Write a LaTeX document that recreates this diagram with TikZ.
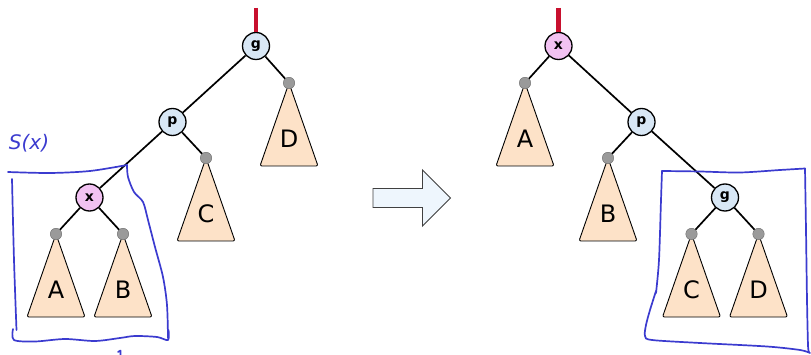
\documentclass[tikz,border=0pt]{standalone}
\usepackage{fontspec}
\setmainfont{DejaVu Sans}
\definecolor{nodeblue}{HTML}{D8E7F5}
\definecolor{nodepink}{HTML}{F2C2F2}
\definecolor{dotgray}{HTML}{9A9A9A}
\definecolor{peach}{HTML}{FDE2C8}
\definecolor{penblue}{HTML}{3B3BCF}
\definecolor{rootred}{HTML}{C8102E}
\definecolor{arrowfill}{HTML}{EEF6FD}
% a subtree triangle hanging below its gray attachment dot
\newcommand\sbtree[4]{%
  \draw[subtree] (#2,#3) -- (#2-29,#3+83) -- (#2+29,#3+83) -- cycle;
  \node[lbl] (#1) at (#2,#3+56) {#4};}
\begin{document}
\begin{tikzpicture}[x=1pt,y=-1pt,
  inner/.style={circle,draw=black,line width=1.3pt,minimum size=27pt,inner sep=0pt,
    font=\fontsize{14}{14}\selectfont\bfseries},
  blu/.style={inner,fill=nodeblue},
  pnk/.style={inner,fill=nodepink},
  leaf/.style={circle,fill=dotgray,draw=dotgray!70!black,line width=0.4pt,
    minimum size=11.5pt,inner sep=0pt},
  edge/.style={line width=1.7pt},
  subtree/.style={draw=black,fill=peach,line width=0.9pt,rounded corners=2pt},
  lbl/.style={font=\fontsize{24}{24}\selectfont},
  pen/.style={draw=penblue,line width=1.7pt,line cap=round,line join=round},
  rootline/.style={draw=rootred,line width=4.5pt},
  bigarrow/.style={draw=black!75,fill=arrowfill,line width=0.9pt}
]
\useasboundingbox (0,0) rectangle (811,355);

% ---------- before the rotation ----------
\sbtree{lD}{289}{83}{D}
\sbtree{lC}{206}{158}{C}
\sbtree{lA}{56}{234}{A}
\sbtree{lB}{123}{234}{B}

\node[blu] (g1) at (256,46) {g};
\node[blu] (p1) at (172.5,122) {p};
\node[pnk] (x1) at (89.5,197.5) {x};
\node[leaf] (dD1) at (289,83) {};
\node[leaf] (dC1) at (206,158) {};
\node[leaf] (dA1) at (56,234) {};
\node[leaf] (dB1) at (123,234) {};
\coordinate (top1) at (256,8);

\draw[rootline] (top1) -- (g1.north);
\draw[edge] (g1) -- (p1);
\draw[edge] (g1) -- (dD1);
\draw[edge] (p1) -- (x1);
\draw[edge] (p1) -- (dC1);
\draw[edge] (x1) -- (dA1);
\draw[edge] (x1) -- (dB1);

% ---------- transition arrow ----------
\draw[bigarrow] (373,188.5) -- (422.5,188.5) -- (422.5,170) -- (450.5,198)
  -- (422.5,226) -- (422.5,207.5) -- (373,207.5) -- cycle;

% ---------- after the rotation ----------
\sbtree{rA}{525}{83}{A}
\sbtree{rB}{608}{158}{B}
\sbtree{rC}{691.5}{234}{C}
\sbtree{rD}{758.5}{234}{D}

\node[pnk] (x2) at (558.5,46) {x};
\node[blu] (p2) at (641.5,122) {p};
\node[blu] (g2) at (725,197.5) {g};
\node[leaf] (dA2) at (525,83) {};
\node[leaf] (dB2) at (608,158) {};
\node[leaf] (dC2) at (691.5,234) {};
\node[leaf] (dD2) at (758.5,234) {};
\coordinate (top2) at (558.5,8);

\draw[rootline] (top2) -- (x2.north);
\draw[edge] (x2) -- (dA2);
\draw[edge] (x2) -- (p2);
\draw[edge] (p2) -- (dB2);
\draw[edge] (p2) -- (g2);
\draw[edge] (g2) -- (dC2);
\draw[edge] (g2) -- (dD2);

% ---------- hand-drawn annotations ----------
\node[text=penblue,font=\fontsize{20}{20}\selectfont\itshape] (sx) at (29,143) {S(x)};
% box around the subtree of x
\draw[pen] plot[smooth] coordinates {(8,172) (50,173) (90,171) (127,165)};
\draw[pen] plot[smooth] coordinates {(127,165) (128,177) (134,192) (143,202)
  (148,220) (155,247) (163,277) (167,305) (168,338)};
\draw[pen] plot[smooth] coordinates {(12,179) (14,260) (16.5,330)};
\draw[pen] plot[smooth] coordinates {(13,329) (14,340) (35,341.5) (65,339)
  (95,341) (120,338) (135,336) (157,337) (168,340) (168.5,330)};
\draw[pen] (118,352) -- (120.5,350.5) -- (120.5,356);
% box around the new subtree of g
\draw[pen] plot[smooth] coordinates {(662,171) (700,171.5) (740,172.5) (780,170) (805,168.5)};
\draw[pen] plot[smooth] coordinates {(805,168.5) (806,230) (807,300) (808,345) (809,352)};
\draw[pen] plot[smooth] coordinates {(662,171) (661,200) (659,260) (656,293)};
\draw[pen] plot[smooth] coordinates {(656,291) (650,310) (646,325) (645,336)
  (652,340) (700,343) (767,346.5) (800,350) (810,353)};
\end{tikzpicture}
\end{document}
